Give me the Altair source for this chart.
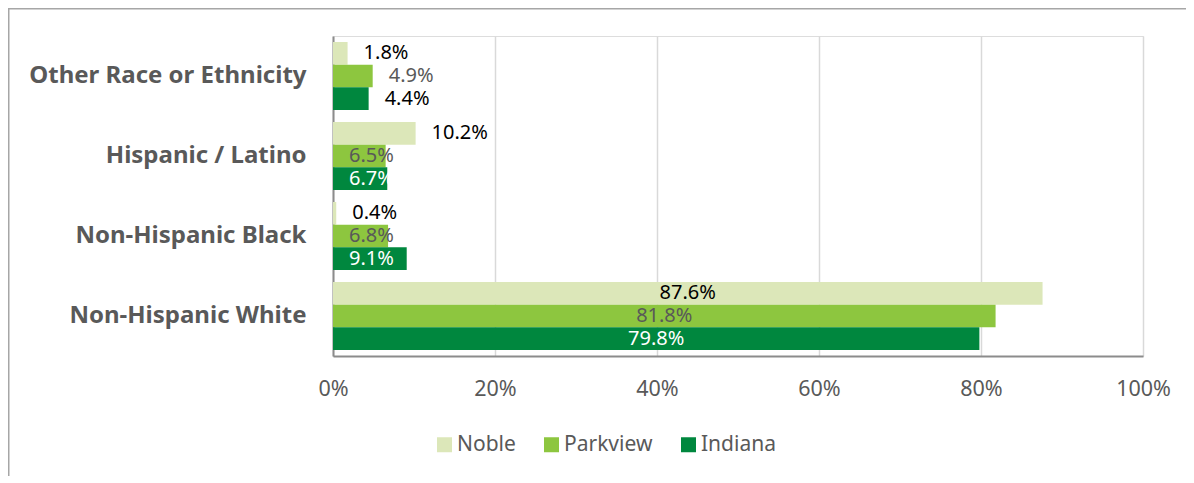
import altair as alt
import pandas as pd

categories = ["Other Race or Ethnicity", "Hispanic / Latino", "Non-Hispanic Black", "Non-Hispanic White"]
series = ["Noble", "Parkview", "Indiana"]
noble = [1.8, 10.2, 0.4, 87.6]
parkview = [4.9, 6.5, 6.8, 81.8]
indiana = [4.4, 6.7, 9.1, 79.8]
# label placement as in the source (outside end / inside base / center)
noble_place = ["outside", "outside", "outside", "center"]
parkview_place = ["outside", "base", "base", "center"]
indiana_place = ["outside", "base", "base", "center"]
colors = ["#DCE7B9", "#8DC63F", "#00873E"]
x_ticks = [0, 20, 40, 60, 80, 100]

rows = []
for s, vals, places in zip(series, [noble, parkview, indiana], [noble_place, parkview_place, indiana_place]):
    for c, v, p in zip(categories, vals, places):
        if s == "Noble":
            lc = "#000000"
        elif s == "Parkview":
            lc = "#595959"
        else:
            lc = "#FFFFFF" if p != "outside" else "#000000"
        rows.append({"category": c, "series": s, "value": v, "place": p, "lc": lc,
                     "label": f"{v:.1f}%"})
df = pd.DataFrame(rows)

FONT = "Noto Sans"

y_enc = alt.Y("category:N", sort=categories, title=None,
              scale=alt.Scale(paddingInner=0.15, paddingOuter=0.075),
              axis=alt.Axis(labelFontWeight="bold", labelFontSize=24, labelColor="#595959",
                            labelFont=FONT, ticks=False, labelPadding=27, labelLimit=400,
                            domainColor="#8C8C8C", domainWidth=2))
yoff = alt.YOffset("series:N", sort=series, scale=alt.Scale(paddingInner=0, paddingOuter=0))

base = alt.Chart(df)

bars = base.mark_bar().encode(
    x=alt.X("value:Q", scale=alt.Scale(domain=[0, 100], nice=False), title=None,
            axis=alt.Axis(values=x_ticks, labelExpr="datum.value + '%'", labelFontSize=21.5,
                          labelColor="#595959", labelFont=FONT, ticks=False, labelPadding=22,
                          labelFlush=False, labelOverlap=False,
                          gridColor="#D9D9D9", gridWidth=1.5, domainColor="#8C8C8C",
                          domainWidth=2)),
    y=y_enc,
    yOffset=yoff,
    color=alt.Color("series:N", sort=series, scale=alt.Scale(domain=series, range=colors),
                    legend=alt.Legend(title=None, orient="none", direction="horizontal",
                                      legendX=101, legendY=398, symbolType="square",
                                      symbolSize=225, symbolStrokeWidth=0,
                                      labelFontSize=21, labelColor="#595959", labelFont=FONT,
                                      columnPadding=25, labelOffset=2)),
)

text_common = dict(fontSize=20, font=FONT, baseline="middle")

outside = base.transform_filter("datum.place == 'outside'").mark_text(
    align="left", dx=16, **text_common).encode(
    x="value:Q", y=alt.Y("category:N", sort=categories), yOffset=yoff,
    text="label:N", color=alt.Color("lc:N", scale=None))

inside_base = base.transform_filter("datum.place == 'base'").transform_calculate(
    zero="0").mark_text(align="left", dx=16, **text_common).encode(
    x="zero:Q", y=alt.Y("category:N", sort=categories), yOffset=yoff,
    text="label:N", color=alt.Color("lc:N", scale=None))

center = base.transform_filter("datum.place == 'center'").transform_calculate(
    mid="datum.value / 2").mark_text(align="center", **text_common).encode(
    x="mid:Q", y=alt.Y("category:N", sort=categories), yOffset=yoff,
    text="label:N", color=alt.Color("lc:N", scale=None))

frame_data = alt.Data(values=[{"k": 1}])
frame_left = alt.Chart(frame_data).mark_rule(color="#A6A6A6", strokeWidth=3).encode(
    x=alt.value(-325), y=alt.value(-28), y2=alt.value(460))
frame_top = alt.Chart(frame_data).mark_rule(color="#A6A6A6", strokeWidth=3).encode(
    x=alt.value(-325), x2=alt.value(870), y=alt.value(-28))

chart = alt.layer(bars, outside, inside_base, center, frame_left, frame_top).properties(
    width=810, height=320,
    autosize=alt.AutoSizeParams(type="none"),
    padding={"left": 325, "top": 28, "right": 43, "bottom": 120},
).configure_view(stroke="#8C8C8C", strokeWidth=2).configure(background="white")

chart.save("out.html", embed_options={"renderer": "svg", "actions": False})
